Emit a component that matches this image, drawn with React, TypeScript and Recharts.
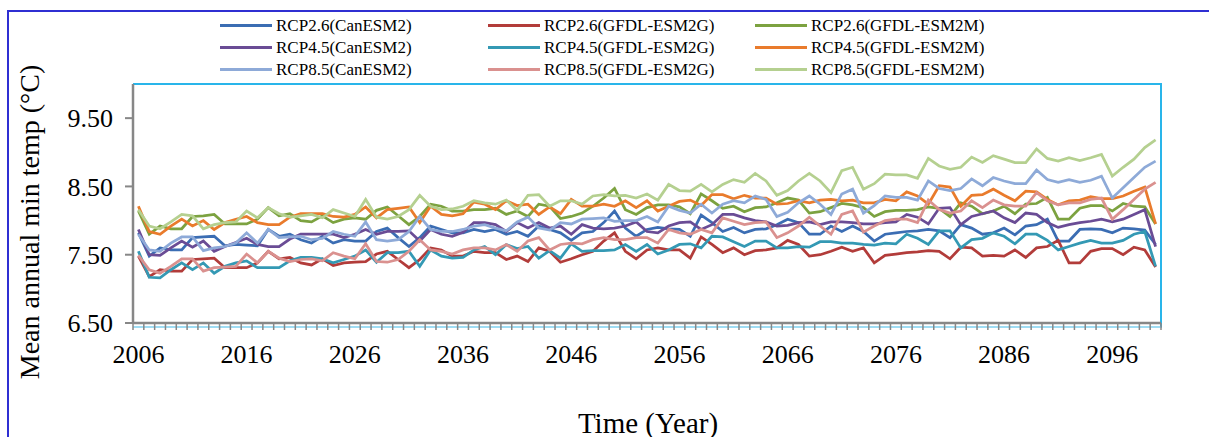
import React from "react";
import { LineChart, Line, XAxis, YAxis } from "recharts";

const FONT = '"Times New Roman", "Liberation Serif", serif';

// categories
const years = Array.from({ length: 95 }, (_, i) => 2006 + i);
const yearLabels = [2006, 2016, 2026, 2036, 2046, 2056, 2066, 2076, 2086, 2096];
const yTicks = [6.5, 7.5, 8.5, 9.5];

// mean annual min temp, one value per year 2006..2100
const rcp26Can = [
  7.82, 7.48, 7.6, 7.57, 7.57, 7.75, 7.76, 7.77, 7.63, 7.65, 7.64, 7.63, 7.87, 7.77, 7.8, 7.72,
  7.67, 7.77, 7.67, 7.72, 7.7, 7.7, 7.84, 7.89, 7.75, 7.62, 7.75, 7.92, 7.87, 7.82, 7.82, 7.87,
  7.84, 7.87, 7.8, 7.84, 7.77, 7.92, 7.87, 7.82, 7.71, 7.82, 7.84, 7.97, 8.14, 7.89, 7.77, 7.87,
  7.9, 7.88, 7.87, 7.77, 8.08, 7.97, 7.84, 7.9, 7.82, 7.87, 7.88, 7.94, 8.02, 7.97, 7.8, 7.8,
  7.92, 7.84, 7.92, 7.84, 7.7, 7.8, 7.82, 7.84, 7.85, 7.87, 7.85, 7.75, 7.94, 7.89, 7.8,
  7.82, 7.89, 7.79, 7.92, 7.94, 8.02, 7.7, 7.7, 7.87, 7.88, 7.87, 7.82, 7.89, 7.88, 7.86, 7.65,
];
const rcp26G = [
  7.48, 7.18, 7.28, 7.26, 7.26, 7.43, 7.44, 7.45, 7.31, 7.31, 7.31, 7.38, 7.55, 7.44, 7.46, 7.38,
  7.35, 7.44, 7.34, 7.38, 7.39, 7.4, 7.51, 7.55, 7.43, 7.31, 7.43, 7.6, 7.57, 7.48, 7.48, 7.55,
  7.53, 7.53, 7.43, 7.48, 7.4, 7.6, 7.55, 7.39, 7.44, 7.5, 7.55, 7.7, 7.82, 7.55, 7.44, 7.57,
  7.6, 7.57, 7.57, 7.45, 7.76, 7.65, 7.53, 7.6, 7.5, 7.56, 7.57, 7.6, 7.71, 7.65, 7.48, 7.5,
  7.55, 7.61, 7.55, 7.6, 7.38, 7.49, 7.51, 7.53, 7.54, 7.56, 7.55, 7.44, 7.61, 7.6, 7.48,
  7.49, 7.48, 7.57, 7.46, 7.6, 7.62, 7.71, 7.38, 7.38, 7.55, 7.59, 7.59, 7.5, 7.61, 7.57, 7.32,
];
const rcp26M = [
  8.14, 7.8, 7.92, 7.88, 7.88, 8.06, 8.07, 8.09, 7.95, 7.95, 7.95, 8.02, 8.19, 8.07, 8.1, 8.0,
  7.98, 8.07, 7.97, 8.02, 8.04, 8.02, 8.15, 8.2, 8.07, 7.94, 8.06, 8.24, 8.21, 8.14, 8.14, 8.16,
  8.16, 8.18, 8.09, 8.14, 8.06, 8.24, 8.21, 8.03, 8.06, 8.11, 8.21, 8.33, 8.47, 8.16, 8.09, 8.19,
  8.23, 8.23, 8.2, 8.1, 8.39, 8.29, 8.18, 8.21, 8.13, 8.19, 8.2, 8.26, 8.33, 8.3, 8.11, 8.13,
  8.19, 8.25, 8.23, 8.19, 8.06, 8.13, 8.15, 8.15, 8.16, 8.2, 8.18, 8.06, 8.26, 8.21, 8.1,
  8.14, 8.21, 8.1, 8.24, 8.25, 8.34, 8.02, 8.02, 8.18, 8.22, 8.22, 8.14, 8.25, 8.21, 8.2, 7.95,
];
const rcp45Can = [
  7.87, 7.5, 7.49, 7.6, 7.7, 7.61, 7.7, 7.55, 7.62, 7.68, 7.74, 7.65, 7.62, 7.62, 7.73, 7.8,
  7.8, 7.8, 7.8, 7.75, 7.8, 7.87, 7.8, 7.84, 7.84, 7.85, 7.7, 7.87, 7.8, 7.77, 7.83, 7.97,
  7.97, 7.94, 7.84, 7.97, 7.89, 7.97, 7.89, 7.92, 7.8, 7.94, 7.89, 7.88, 7.89, 7.92, 7.98, 7.84,
  7.82, 7.92, 7.97, 7.98, 7.87, 7.94, 8.09, 8.09, 8.04, 8.0, 7.98, 7.92, 7.93, 7.97, 7.98, 7.94,
  7.98, 7.98, 7.97, 7.95, 7.95, 7.97, 7.98, 8.09, 8.05, 7.95, 8.18, 8.19, 7.94, 8.06, 8.1,
  8.14, 8.04, 7.97, 8.11, 8.09, 7.97, 7.9, 7.94, 7.97, 7.99, 8.02, 7.98, 8.02, 8.09, 8.16, 7.62,
];
const rcp45G = [
  7.55, 7.17, 7.16, 7.28, 7.38, 7.28, 7.38, 7.23, 7.33, 7.38, 7.41, 7.31, 7.31, 7.31, 7.41, 7.46,
  7.46, 7.44, 7.38, 7.43, 7.48, 7.57, 7.39, 7.53, 7.53, 7.55, 7.33, 7.57, 7.48, 7.45, 7.46, 7.57,
  7.62, 7.5, 7.65, 7.59, 7.62, 7.45, 7.56, 7.45, 7.66, 7.55, 7.56, 7.56, 7.57, 7.65, 7.55, 7.65,
  7.51, 7.57, 7.65, 7.66, 7.6, 7.77, 7.76, 7.69, 7.62, 7.7, 7.7, 7.6, 7.6, 7.62, 7.61, 7.69,
  7.69, 7.67, 7.67, 7.65, 7.64, 7.67, 7.66, 7.8, 7.74, 7.65, 7.85, 7.85, 7.6, 7.72, 7.74,
  7.82, 7.77, 7.66, 7.8, 7.8, 7.71, 7.57, 7.62, 7.67, 7.71, 7.67, 7.67, 7.71, 7.8, 7.84, 7.33,
];
const rcp45M = [
  8.21, 7.84, 7.8, 7.92, 8.02, 7.92, 8.0, 7.87, 7.97, 8.02, 8.06, 7.97, 7.94, 7.94, 8.05, 8.1,
  8.1, 8.1, 8.06, 8.05, 8.09, 8.2, 8.04, 8.16, 8.18, 8.2, 7.97, 8.21, 8.09, 8.07, 8.1, 8.27,
  8.24, 8.16, 8.29, 8.22, 8.24, 8.09, 8.2, 8.1, 8.31, 8.21, 8.21, 8.24, 8.21, 8.29, 8.19, 8.29,
  8.14, 8.21, 8.28, 8.3, 8.22, 8.38, 8.38, 8.32, 8.37, 8.33, 8.33, 8.24, 8.25, 8.29, 8.26, 8.3,
  8.31, 8.29, 8.3, 8.26, 8.26, 8.31, 8.29, 8.42, 8.36, 8.24, 8.51, 8.49, 8.21, 8.37, 8.38,
  8.46, 8.37, 8.29, 8.43, 8.42, 8.31, 8.23, 8.29, 8.3, 8.35, 8.32, 8.32, 8.36, 8.43, 8.49, 7.95,
];
const rcp85Can = [
  7.8, 7.57, 7.55, 7.67, 7.76, 7.76, 7.56, 7.6, 7.62, 7.67, 7.82, 7.67, 7.87, 7.75, 7.76, 7.77,
  7.72, 7.74, 7.84, 7.8, 7.77, 7.98, 7.72, 7.7, 7.72, 7.84, 8.06, 7.87, 7.84, 7.84, 7.87, 7.92,
  7.94, 7.89, 7.85, 7.98, 8.05, 7.89, 7.86, 7.97, 7.95, 8.02, 8.03, 8.04, 7.99, 8.0, 8.0, 8.06,
  7.98, 8.21, 8.15, 8.11, 8.24, 8.11, 8.24, 8.29, 8.26, 8.36, 8.31, 8.06, 8.12, 8.26, 8.36, 8.24,
  8.09, 8.39, 8.46, 8.11, 8.22, 8.36, 8.34, 8.34, 8.3, 8.58, 8.47, 8.44, 8.47, 8.61, 8.51,
  8.63, 8.58, 8.54, 8.54, 8.74, 8.6, 8.56, 8.6, 8.56, 8.59, 8.65, 8.33, 8.48, 8.63, 8.78, 8.87,
];
const rcp85G = [
  7.49, 7.28, 7.23, 7.33, 7.44, 7.44, 7.26, 7.31, 7.32, 7.33, 7.51, 7.38, 7.55, 7.45, 7.4, 7.43,
  7.44, 7.41, 7.53, 7.48, 7.44, 7.66, 7.4, 7.39, 7.43, 7.55, 7.72, 7.57, 7.55, 7.51, 7.57, 7.6,
  7.6, 7.57, 7.65, 7.55, 7.7, 7.75, 7.57, 7.65, 7.67, 7.66, 7.72, 7.75, 7.72, 7.72, 7.75, 7.75,
  7.67, 7.87, 7.82, 7.8, 7.87, 7.82, 8.04, 7.99, 7.94, 7.97, 7.98, 7.75, 7.82, 7.92, 8.05, 7.92,
  7.8, 8.09, 8.14, 7.83, 7.92, 8.0, 8.02, 8.02, 7.97, 8.3, 8.16, 8.11, 8.14, 8.29, 8.19,
  8.3, 8.23, 8.21, 8.21, 8.41, 8.29, 8.23, 8.26, 8.26, 8.31, 8.33, 8.02, 8.16, 8.31, 8.46, 8.56,
];
const rcp85M = [
  8.16, 7.92, 7.88, 7.98, 8.09, 8.07, 7.88, 7.94, 7.97, 7.98, 8.14, 8.04, 8.19, 8.1, 8.05, 8.07,
  8.09, 8.04, 8.16, 8.11, 8.06, 8.31, 8.05, 8.02, 8.06, 8.16, 8.37, 8.21, 8.16, 8.17, 8.21, 8.29,
  8.26, 8.24, 8.3, 8.15, 8.37, 8.38, 8.21, 8.29, 8.29, 8.24, 8.36, 8.38, 8.36, 8.37, 8.33, 8.39,
  8.3, 8.53, 8.44, 8.43, 8.53, 8.42, 8.53, 8.6, 8.56, 8.69, 8.58, 8.37, 8.44, 8.58, 8.69, 8.58,
  8.41, 8.73, 8.78, 8.46, 8.54, 8.68, 8.67, 8.67, 8.62, 8.91, 8.8, 8.75, 8.78, 8.93, 8.85,
  8.95, 8.9, 8.85, 8.85, 9.05, 8.91, 8.87, 8.92, 8.88, 8.92, 8.97, 8.65, 8.78, 8.9, 9.07, 9.18,
];

const series = [
  { key: "rcp26Can", name: "RCP2.6(CanESM2)", color: "#3b6db3", values: rcp26Can },
  { key: "rcp26G", name: "RCP2.6(GFDL-ESM2G)", color: "#b23c3a", values: rcp26G },
  { key: "rcp26M", name: "RCP2.6(GFDL-ESM2M)", color: "#7ca240", values: rcp26M },
  { key: "rcp45Can", name: "RCP4.5(CanESM2)", color: "#6a4c95", values: rcp45Can },
  { key: "rcp45G", name: "RCP4.5(GFDL-ESM2G)", color: "#3499b4", values: rcp45G },
  { key: "rcp45M", name: "RCP4.5(GFDL-ESM2M)", color: "#e97b2c", values: rcp45M },
  { key: "rcp85Can", name: "RCP8.5(CanESM2)", color: "#8eaad8", values: rcp85Can },
  { key: "rcp85G", name: "RCP8.5(GFDL-ESM2G)", color: "#da918f", values: rcp85G },
  { key: "rcp85M", name: "RCP8.5(GFDL-ESM2M)", color: "#b5d090", values: rcp85M },
];

const data = years.map((year, i) => {
  const row: Record<string, number> = { year };
  series.forEach((s) => {
    row[s.key] = s.values[i];
  });
  return row;
});

// each year owns a slot from year-0.5 to year+0.5; tick marks sit on the slot edges
const firstYear = years[0];
const lastYear = years[years.length - 1];
const yearDomain = [firstYear - 0.5, lastYear + 0.5];
const slotEdges = [...years.map((y) => y - 0.5), lastYear + 0.5];

const axisGray = "#878787";

function ChartLegend() {
  return (
    <div
      style={{
        position: "absolute",
        left: 220,
        top: 16,
        display: "grid",
        gridTemplateColumns: "268px 267px 260px",
        rowGap: 3,
        fontFamily: FONT,
        fontSize: 17,
        lineHeight: "19px",
        color: "#000",
      }}
    >
      {series.map((s) => (
        <div key={s.key} style={{ display: "flex", alignItems: "center" }}>
          <span style={{ width: 52, height: 3, background: s.color, marginRight: 4 }} />
          <span>{s.name}</span>
        </div>
      ))}
    </div>
  );
}

export default function App() {
  return (
    <div
      style={{
        position: "absolute",
        left: 0,
        top: 0,
        width: 1209,
        height: 437,
        background: "#fff",
        overflow: "hidden",
      }}
    >
      {/* outer frame */}
      <div
        style={{
          position: "absolute",
          left: 7,
          top: 10,
          width: 1210,
          height: 440,
          borderTop: "2px solid #2f2fd2",
          borderLeft: "2px solid #2f2fd2",
        }}
      />
      {/* plot area border */}
      <div
        style={{
          position: "absolute",
          left: 133,
          top: 83,
          width: 1027,
          height: 241,
          borderTop: "2px solid #29b5ea",
          borderRight: "2px solid #29b5ea",
          borderBottom: "2px solid #9fdcf3",
        }}
      />
      <ChartLegend />
      <div style={{ position: "absolute", left: 0, top: 0 }}>
        <LineChart
          width={1209}
          height={437}
          data={data}
          margin={{ top: 84, right: 48, left: 0, bottom: 74 }}
        >
          <XAxis
            xAxisId="marks"
            dataKey="year"
            type="number"
            domain={yearDomain}
            ticks={slotEdges}
            interval={0}
            allowDataOverflow
            tickFormatter={() => ""}
            tickSize={7}
            height={8}
            axisLine={{ stroke: axisGray, strokeWidth: 2.5 }}
            tickLine={{ stroke: axisGray, strokeWidth: 1.5 }}
          />
          <XAxis
            xAxisId="years"
            dataKey="year"
            type="number"
            domain={yearDomain}
            ticks={yearLabels}
            interval={0}
            allowDataOverflow
            height={32}
            axisLine={false}
            tickLine={false}
            tickSize={0}
            tickMargin={14}
            tick={{ fontSize: 26, fill: "#000", fontFamily: FONT }}
          />
          <YAxis
            type="number"
            domain={[6.5, 10]}
            ticks={yTicks}
            allowDataOverflow
            width={133}
            tickFormatter={(v: number) => v.toFixed(2)}
            tickSize={8}
            tickMargin={12}
            axisLine={{ stroke: axisGray, strokeWidth: 2.5 }}
            tickLine={{ stroke: axisGray, strokeWidth: 2 }}
            tick={{ fontSize: 26, fill: "#000", fontFamily: FONT }}
          />
          {series.map((s) => (
            <Line
              key={s.key}
              xAxisId="years"
              type="linear"
              dataKey={s.key}
              name={s.name}
              stroke={s.color}
              strokeWidth={2.75}
              dot={false}
              isAnimationActive={false}
            />
          ))}
        </LineChart>
      </div>
      {/* axis titles */}
      <div
        style={{
          position: "absolute",
          left: 30,
          top: 222,
          transform: "translate(-50%, -50%) rotate(-90deg)",
          whiteSpace: "nowrap",
          fontFamily: FONT,
          fontSize: 28,
          color: "#000",
        }}
      >
        Mean annual min temp (°C)
      </div>
      <div
        style={{
          position: "absolute",
          left: 648,
          top: 423,
          transform: "translate(-50%, -50%)",
          whiteSpace: "nowrap",
          fontFamily: FONT,
          fontSize: 29,
          color: "#000",
        }}
      >
        Time (Year)
      </div>
    </div>
  );
}
